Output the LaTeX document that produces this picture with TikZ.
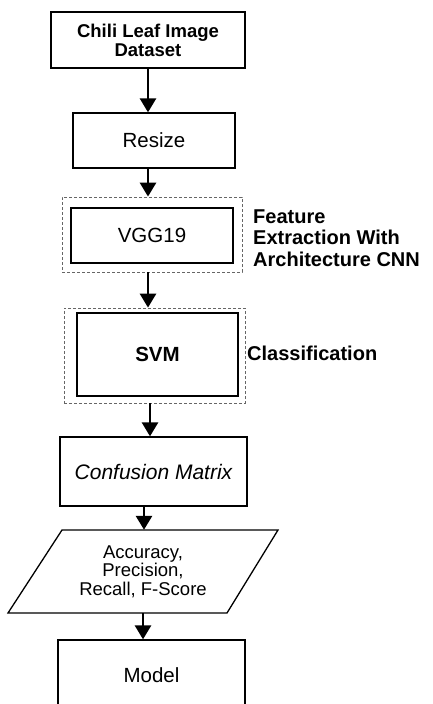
\documentclass[tikz,border=0pt]{standalone}
\usepackage{fontspec}
\setmainfont{Liberation Sans}
\usetikzlibrary{arrows.meta,calc}
\begin{document}
\begin{tikzpicture}[x=1pt,y=-1pt,
 box/.style={draw,line width=1.3pt,inner sep=0pt,align=center,font=\fontsize{20.5}{23}\selectfont},
 dbox/.style={draw=black!60,dash pattern=on 3pt off 2pt,line width=0.8pt,inner sep=0pt},
 arr/.style={line width=2.8pt,-{Triangle[width=16pt,length=14pt]}},
 lab/.style={anchor=west,align=left,inner sep=0pt,font=\bfseries\fontsize{20}{21.5}\selectfont}]
\useasboundingbox (0,0) rectangle (432,704);
\clip (0,0) rectangle (432,704);
\node[box,line width=1.9pt,minimum width=194pt,minimum height=56pt,font=\bfseries\fontsize{18.5}{19}\selectfont] (ds) at (148,40) {Chili Leaf Image\\Dataset};
\node[box,minimum width=162pt,minimum height=55pt] (rs) at (154,140.5) {Resize};
\node[dbox,minimum width=180pt,minimum height=75pt] (fe) at (152,234.5) {};
\node[box,minimum width=162pt,minimum height=55pt] (vgg) at (152,235.5) {VGG19};
\node[dbox,minimum width=181pt,minimum height=95pt] (cl) at (154.5,355.5) {};
\node[box,minimum width=161pt,minimum height=83pt,font=\bfseries\fontsize{20.5}{23}\selectfont] (svm) at (157.5,354.5) {SVM};
\node[box,minimum width=187pt,minimum height=69pt,font=\itshape\fontsize{21}{23}\selectfont] (cm) at (153.5,471.5) {Confusion Matrix};
\node[inner sep=0pt,minimum width=216pt,minimum height=83pt,align=center,font=\fontsize{18.5}{18.5}\selectfont] (met) at (143,571.5) {Accuracy,\\Precision,\\Recall, F-Score};
\draw[line width=1.3pt] (62,530) -- (278,530) -- (227,613) -- (8,613) -- cycle;
\node[box,minimum width=187pt,minimum height=70pt] (mod) at (151.5,675) {Model};
\node[lab] (felab) at (253,238) {Feature\\Extraction With\\Architecture CNN};
\node[lab] (cllab) at (247,353) {Classification};
\coordinate (a1) at (148,0);
\coordinate (a2) at (148,0);
\coordinate (a3) at (148,0);
\coordinate (a4) at (150,0);
\coordinate (a5) at (144,0);
\coordinate (a6) at (143,0);
\draw[arr] (ds.south -| a1) -- (rs.north -| a1);
\draw[arr] (rs.south -| a2) -- (fe.north -| a2);
\draw[arr] (fe.south -| a3) -- (cl.north -| a3);
\draw[arr] (cl.south -| a4) -- (cm.north -| a4);
\draw[arr] (cm.south -| a5) -- (met.north -| a5);
\draw[arr] (met.south -| a6) -- (mod.north -| a6);
\end{tikzpicture}
\end{document}
